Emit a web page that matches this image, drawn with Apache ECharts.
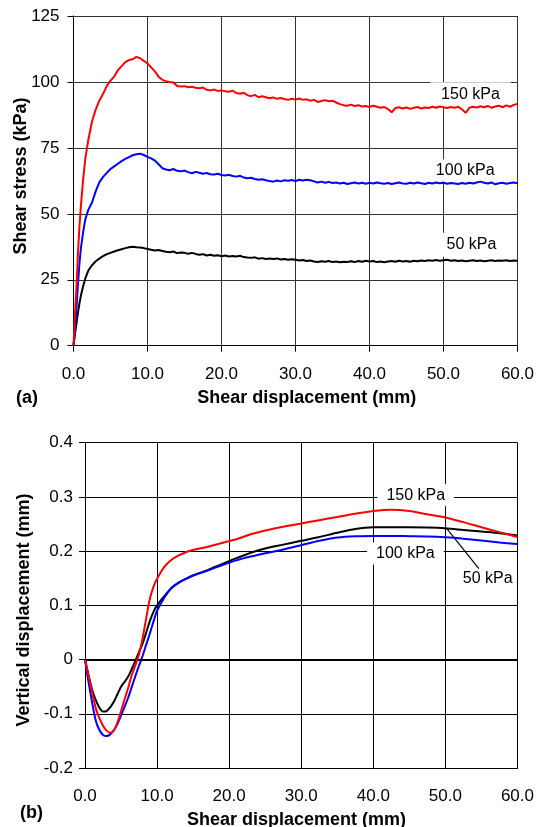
<!DOCTYPE html>
<html>
<head>
<meta charset="utf-8">
<script src="https://cdn.jsdelivr.net/npm/echarts@6/dist/echarts.min.js"></script>
<style>
html,body{margin:0;padding:0;background:#fff;}
#chart{width:537px;height:827px;}
</style>
</head>
<body>
<div id="chart"></div>
<script>
// ---------- Data (a): shear stress vs shear displacement ----------
const stressX = [0,0.2,0.4,0.6,0.8,1.0,1.3,1.6,2.0,2.5,3.0,3.5,4.0,4.5,5,5.5,6,6.5,7,7.5,8,8.5,9,9.5,10,
  10.5,11,11.5,12,12.5,13,13.5,14,14.5,15,15.5,16,16.5,17,17.5,18,18.5,19,19.5,20,
  20.5,21,21.5,22,22.5,23,23.5,24,24.5,25,25.5,26,26.5,27,27.5,28,28.5,29,29.5,30,
  30.5,31,31.5,32,32.5,33,33.5,34,34.5,35,35.5,36,36.5,37,37.5,38,38.5,39,39.5,40,
  40.5,41,41.5,42,42.5,43,43.5,44,44.5,45,45.5,46,46.5,47,47.5,48,48.5,49,49.5,50,
  50.5,51,51.5,52,52.5,53,53.5,54,54.5,55,55.5,56,56.5,57,57.5,58,58.5,59,59.5,60];
const stress150 = [0,12,22,35,45,53,63,71,78,85,89.5,93,95.5,98.5,100.5,102,104.5,106,107.5,108.3,108.6,109.5,109,108,107,
  105.5,104,102,100.8,100.3,100,99.8,98.5,98.3,98.4,98,98.2,97.8,97.6,97.9,97,96.8,97.1,96.6,96.8,
  96.5,96.3,96.7,95.8,95.5,95.9,95,94.6,95.1,94.2,94.6,94.2,93.8,94.1,93.6,93.9,93.5,93.2,93.6,93.3,
  93.7,93.2,93.4,92.9,93.2,92.4,92.8,93.1,92.7,92.9,92.2,91.6,91.2,91,91.4,90.9,91.2,90.7,90.9,90.5,
  91,90.6,90.2,90.5,89.7,88.5,90.1,90.4,89.9,90.3,89.8,90.2,90.5,89.9,90.3,90.1,90.6,90.2,90.7,90.4,
  90.1,90.5,90.2,90.6,89.6,88.3,90.2,90.6,90.3,90.8,90.4,90.9,90.2,90.7,91,90.4,91.1,90.6,91.3,91.6];
const stress100 = [0,6,14,23,31,37,43,48,51.5,54.3,58.5,62,64,65.5,67,68,69,70,70.8,71.5,72.2,72.6,72.8,72.3,71.6,
  71,70.2,68.8,67.3,66.8,66.5,67,66.3,66.1,66.4,65.8,65.4,65.9,65.6,65.2,65.5,65,64.9,65.2,64.7,
  64.5,64.8,64.3,64.1,64.4,63.8,63.5,63.7,63.2,62.9,63.1,62.7,62.4,62.2,62.6,62.3,62.7,62.5,62.8,62.4,
  62.9,62.6,62.9,62.7,62.3,61.9,62.2,61.8,62.1,61.7,61.9,61.5,61.8,61.3,61.6,61.9,61.5,61.8,61.4,61.8,
  61.5,61.9,61.6,61.4,61.7,61.3,61.6,61.9,61.5,61.4,61.8,61.5,61.9,61.6,61.3,61.8,61.5,61.9,61.6,61.8,
  61.4,61.7,61.5,61.3,61.7,61.4,61.8,61.5,61.9,62.2,61.8,61.5,61.9,61.2,61.6,61.8,61.4,61.7,61.9,61.6];
const stress50 = [0,4.5,8.5,12.5,16,19,22.5,25.5,28.5,30.5,32,33,34,34.7,35.2,35.7,36.2,36.6,37,37.3,37.5,37.3,37.2,37,36.7,
  36.4,36.1,36.3,35.9,35.6,35.4,35.7,35.1,35.3,35.2,34.9,35.2,34.8,34.5,34.7,34.2,34.5,34.1,34.3,33.9,
  34.2,33.8,34,33.8,34.1,33.6,33.4,33.3,33.5,33,33.2,32.9,33.1,32.9,33.1,32.7,32.9,32.6,32.8,32.6,
  32.3,32.5,32.1,32.3,31.9,31.7,32,31.8,32.1,31.7,31.9,31.6,31.8,31.7,32,31.7,32.1,31.8,32.2,31.9,
  32.1,31.7,31.9,31.6,31.9,32.1,31.8,32.2,31.9,32.1,31.8,32.2,32,32.3,32.1,32.4,32.2,32.5,32.2,32.4,
  32.6,32.2,32.4,32.1,32.3,32,32.2,32.4,32.1,32.3,32,32.2,32.4,32.1,32.3,32.2,32.4,32.1,32.3,32.2];

// ---------- Data (b): vertical displacement vs shear displacement ----------
const vertX = [0,0.5,1,1.5,2,2.5,3,3.5,4,4.5,5,5.5,6,6.5,7,7.5,8,8.5,9,9.5,10,
  11,12,13,14,15,17,19,21,23,25,27.5,30,32.5,35,37.5,40,42.5,45,47.5,50,52.5,55,57.5,60];
const vert150 = [0,-0.03,-0.061,-0.09,-0.108,-0.122,-0.131,-0.135,-0.131,-0.116,-0.095,-0.073,-0.052,-0.028,-0.01,0.01,0.04,0.077,0.112,0.134,0.149,
  0.171,0.184,0.192,0.198,0.202,0.208,0.215,0.222,0.231,0.238,0.245,0.251,0.257,0.263,0.269,0.274,0.2765,0.274,0.268,0.262,0.2535,0.244,0.235,0.226];
const vert100 = [0,-0.042,-0.08,-0.113,-0.13,-0.139,-0.141,-0.138,-0.13,-0.119,-0.103,-0.087,-0.07,-0.05,-0.03,-0.011,0.007,0.028,0.048,0.07,0.09,
  0.114,0.132,0.142,0.149,0.155,0.164,0.174,0.183,0.19,0.196,0.203,0.211,0.219,0.225,0.2275,0.228,0.228,0.2275,0.227,0.2255,0.223,0.2195,0.216,0.213];
const vert50 = [0,-0.03,-0.056,-0.075,-0.089,-0.096,-0.095,-0.088,-0.078,-0.064,-0.05,-0.041,-0.031,-0.017,-0.002,0.014,0.03,0.05,0.071,0.088,0.1,
  0.117,0.132,0.142,0.149,0.155,0.165,0.176,0.187,0.197,0.205,0.212,0.219,0.226,0.234,0.241,0.244,0.244,0.244,0.2435,0.242,0.239,0.236,0.233,0.229];

const seriesNames = ['150 kPa','100 kPa','50 kPa'];

function pairs(xs, ys){ return xs.map((x,i)=>[x, ys[i]]); }

const FONT = 'Liberation Sans, Arial, Helvetica, sans-serif';
const chart = echarts.init(document.getElementById('chart'), null, {renderer:'canvas'});

function xAxisCfg(gridIndex, gridColor, showTicks){
  return {
    type:'value', gridIndex, min:0, max:60, interval:10,
    axisLine:{show:true, onZero:false, lineStyle:{color:'#000', width:1}},
    axisTick:{show:showTicks, length:6, lineStyle:{color:'#000'}},
    axisLabel:{margin:20, color:'#000', fontSize:17, fontFamily:FONT, formatter:v=>v.toFixed(1)},
    splitLine:{show:true, lineStyle:{color:gridColor, width:1}}
  };
}

function labelSeries(xi, yi, name, pt, pad){
  return {
    type:'scatter', xAxisIndex:xi, yAxisIndex:yi, symbolSize:1, z:1, silent:true,
    itemStyle:{color:'rgba(255,255,255,0)', opacity:1},
    emphasis:{disabled:true},
    data:[pt],
    label:{show:true, position:'inside', color:'#000', opacity:1, fontSize:16, fontFamily:FONT,
      backgroundColor:'#fff', padding:pad, formatter:name}
  };
}

const option = {
  animation:false,
  backgroundColor:'#fff',
  grid:[
    {left:73.5, top:16, width:446.5, height:329.7},
    {left:85, top:442.7, width:436.7, height:325.3}
  ],
  xAxis:[ xAxisCfg(0,'#333',true), xAxisCfg(1,'#000',false) ],
  yAxis:[
    {type:'value', gridIndex:0, min:0, max:125, interval:25,
     axisLine:{show:true, lineStyle:{color:'#000'}},
     axisTick:{show:true, length:6, lineStyle:{color:'#000'}},
     axisLabel:{margin:14, color:'#000', fontSize:17, fontFamily:FONT},
     splitLine:{show:true, lineStyle:{color:'#333', width:1}}},
    {type:'value', gridIndex:1, min:-0.2, max:0.4, interval:0.1,
     axisLine:{show:true, onZero:false, lineStyle:{color:'#000'}},
     axisTick:{show:true, length:6, lineStyle:{color:'#000'}},
     axisLabel:{margin:12, color:'#000', fontSize:17, fontFamily:FONT,
       formatter:v=>{const r=Math.round(v*10)/10; return r===0?'0':String(r);}},
     splitLine:{show:true, lineStyle:{color:'#000', width:1}}}
  ],
  series:[
    // (a) labels
    labelSeries(0,0,seriesNames[0],[53.65,95.3],[4,11]),
    labelSeries(0,0,seriesNames[1],[52.94,66.4],[3,11]),
    labelSeries(0,0,seriesNames[2],[53.79,38.3],[4,11]),
    // (a) curves
    {type:'line', name:'50 kPa a', xAxisIndex:0, yAxisIndex:0, data:pairs(stressX,stress50), showSymbol:false, z:3,
     lineStyle:{color:'#000', width:2}},
    {type:'line', name:'100 kPa a', xAxisIndex:0, yAxisIndex:0, data:pairs(stressX,stress100), showSymbol:false, z:4,
     lineStyle:{color:'#0000ff', width:2}},
    {type:'line', name:'150 kPa a', xAxisIndex:0, yAxisIndex:0, data:pairs(stressX,stress150), showSymbol:false, z:5,
     lineStyle:{color:'#ff0000', width:2}},
    // (b) labels
    labelSeries(1,1,seriesNames[0],[45.89,0.3031],[3,9]),
    labelSeries(1,1,seriesNames[1],[44.45,0.1956],[3,9]),
    labelSeries(1,1,seriesNames[2],[55.88,0.1494],[2,2]),
    // (b) leader line for 50 kPa
    {type:'line', xAxisIndex:1, yAxisIndex:1, data:[[50.15,0.2423],[54.64,0.1679]], showSymbol:false, z:2, silent:true,
     lineStyle:{color:'#000', width:1.2}},
    // (b) curves
    {type:'line', name:'50 kPa b', xAxisIndex:1, yAxisIndex:1, data:pairs(vertX,vert50), showSymbol:false, z:3, smooth:0.3,
     lineStyle:{color:'#000', width:2},
     markLine:{silent:true, symbol:'none', label:{show:false}, lineStyle:{color:'#000', width:2, type:'solid'}, data:[{yAxis:0}]}},
    {type:'line', name:'100 kPa b', xAxisIndex:1, yAxisIndex:1, data:pairs(vertX,vert100), showSymbol:false, z:4, smooth:0.3,
     lineStyle:{color:'#0000ff', width:2}},
    {type:'line', name:'150 kPa b', xAxisIndex:1, yAxisIndex:1, data:pairs(vertX,vert150), showSymbol:false, z:5, smooth:0.3,
     lineStyle:{color:'#ff0000', width:2}}
  ],
  graphic:[
    {type:'text', x:306.7, y:398, style:{text:'Shear displacement (mm)', font:'bold 18px '+FONT, fill:'#000', textAlign:'center', textVerticalAlign:'middle'}},
    {type:'text', x:296.5, y:820, style:{text:'Shear displacement (mm)', font:'bold 18px '+FONT, fill:'#000', textAlign:'center', textVerticalAlign:'middle'}},
    {type:'text', x:21, y:176, rotation:Math.PI/2, style:{text:'Shear stress (kPa)', font:'bold 18px '+FONT, fill:'#000', textAlign:'center', textVerticalAlign:'middle'}},
    {type:'text', x:24.5, y:610, rotation:Math.PI/2, style:{text:'Vertical displacement (mm)', font:'bold 18px '+FONT, fill:'#000', textAlign:'center', textVerticalAlign:'middle'}},
    {type:'text', x:27, y:398, style:{text:'(a)', font:'bold 18px '+FONT, fill:'#000', textAlign:'center', textVerticalAlign:'middle'}},
    {type:'text', x:31.5, y:813, style:{text:'(b)', font:'bold 18px '+FONT, fill:'#000', textAlign:'center', textVerticalAlign:'middle'}}
  ]
};
chart.setOption(option);
</script>
</body>
</html>
